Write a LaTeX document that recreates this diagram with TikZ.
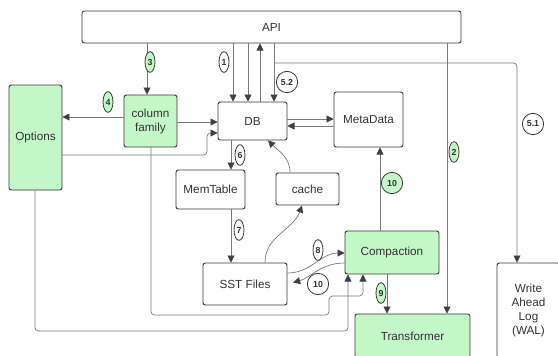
\documentclass[tikz,border=0pt]{standalone}
\usepackage{fontspec}
\setmainfont{Liberation Sans}
\usetikzlibrary{positioning, arrows.meta, shapes.geometric}

\definecolor{boxgreen}{HTML}{C3F7C8}
\definecolor{boxline}{HTML}{3A3A3A}
\definecolor{txt}{HTML}{333333}
\definecolor{linegray}{HTML}{7A7A7A}
\definecolor{tipc}{HTML}{3A414A}

\begin{document}
\begin{tikzpicture}[
    x=0.03cm, y=-0.03cm,
    font=\fontsize{10}{12}\selectfont,
    box/.style={rectangle, rounded corners=2pt, draw=boxline, line width=0.8pt, text=txt, align=center, inner sep=0pt},
    gbox/.style={box, fill=boxgreen},
    link/.style={draw=linegray, line width=0.6pt, rounded corners=3pt},
    conn/.style={link, -{Triangle[length=6pt, width=6pt, color=tipc]}},
    tag/.style={ellipse, draw=boxline, line width=0.7pt, fill=white, text=txt, inner sep=0pt, minimum width=0.3cm, minimum height=0.62cm, font=\fontsize{7.5}{8}\selectfont\bfseries},
    gtag/.style={tag, fill=boxgreen},
    ctag/.style={tag, minimum width=0.64cm, minimum height=0.64cm}
  ]
  \useasboundingbox (0,0) rectangle (558,355);

  % Top level
  \node[box, minimum width=11.37cm, minimum height=0.96cm] (api) at (271.5,27) {API};

  % Left side
  \node[gbox, minimum width=1.59cm, minimum height=3.15cm] (options) at (35.5,137.5) {Options};
  \node[gbox, minimum width=1.59cm, minimum height=1.56cm] (cf) at (150.5,121) {column\\family};

  % Middle
  \node[box, minimum width=2.07cm, minimum height=1.14cm] (db) at (252.5,121) {DB};
  \node[box, minimum width=2.07cm, minimum height=1.65cm] (meta) at (368.5,119.5) {MetaData};
  \node[box, minimum width=2.07cm, minimum height=1.17cm] (mem) at (210.5,189.5) {MemTable};
  \node[box, minimum width=1.89cm, minimum height=0.96cm] (cache) at (307.5,189) {cache};
  \node[box, minimum width=2.52cm, minimum height=1.26cm] (sst) at (245,284) {SST Files};

  % Bottom right
  \node[gbox, minimum width=2.82cm, minimum height=1.29cm] (comp) at (392,252.5) {Compaction};
  \node[gbox, minimum width=3.45cm, minimum height=1.32cm] (trans) at (412.5,336) {Transformer};
  \node[box, minimum width=1.89cm, minimum height=2.85cm] (wal) at (528.5,310.5) {Write\\Ahead\\Log\\(WAL)};

  % API connectors
  \draw[conn] (233,0 |- api.south) -- (233,0 |- db.north);
  \draw[conn] (248,0 |- api.south) -- (248,0 |- db.north);
  \draw[conn] (260,0 |- db.north) -- (260,0 |- api.south);
  \draw[conn] (274,0 |- api.south) -- (274,0 |- db.north);
  \coordinate (split) at (274,63);
  \draw[conn] (split) -- (517,63) -- (517,0 |- wal.north);
  \draw[conn] (447,0 |- api.south) -- (447,0 |- trans.north);
  \draw[conn] (147,0 |- api.south) -- (147,0 |- cf.north);

  % column family and options
  \draw[conn] (cf.west |- 0,117) -- (options.east |- 0,117);
  \draw[conn] (cf.east |- 0,122) -- (db.west |- 0,122);
  \draw[conn] (options.east |- 0,155) -- (207,155) -- (207,133) -- (db.west |- 0,133);

  % DB and MetaData
  \draw[conn] (db.east |- 0,119) -- (meta.west |- 0,119);
  \draw[conn] (meta.west |- 0,126) -- (db.east |- 0,126);

  % write path
  \draw[conn] (231,0 |- db.south) -- (231,0 |- mem.north);
  \draw[conn] (231,0 |- mem.south) -- (231,0 |- sst.north);
  \draw[conn] (265,0 |- sst.north) to[out=90, in=-110] (302,0 |- cache.south);
  \draw[conn] (290,0 |- cache.north) to[out=90, in=-45] (268,0 |- db.south);

  % compaction
  \draw[conn] (sst.east |- 0,273) to[out=0, in=180] (comp.west |- 0,253);
  \draw[conn, shorten >=5pt] (comp.west |- 0,263) to[out=180, in=15] (sst.east |- 0,284);
  \draw[conn] (380,0 |- comp.north) -- (380,0 |- meta.south);
  \draw[conn] (387,0 |- comp.south) -- (387,0 |- trans.north);
  \draw[conn] (151,0 |- cf.south) -- (151,315) -- (329,315) -- (329,296) -- (363,296) -- (363,0 |- comp.south);
  \draw[conn] (35,0 |- options.south) -- (35,331) -- (348,331) -- (348,0 |- comp.south);

  % Step labels
  \node[tag] (t1) at (224,62) {1};
  \node[gtag] (t2) at (454,152) {2};
  \node[gtag] (t3) at (150,62) {3};
  \node[gtag] (t4) at (108,102) {4};
  \node[ctag] (t51) at (533,124) {5.1};
  \node[ctag] (t52) at (287,82) {5.2};
  \node[tag] (t6) at (240,155) {6};
  \node[tag] (t7) at (239,230) {7};
  \node[tag] (t8) at (318,250) {8};
  \node[gtag] (t9) at (381,293) {9};
  \node[ctag, fill=boxgreen] (t10a) at (392,183) {10};
  \node[ctag] (t10b) at (318,284) {10};
\end{tikzpicture}
\end{document}
